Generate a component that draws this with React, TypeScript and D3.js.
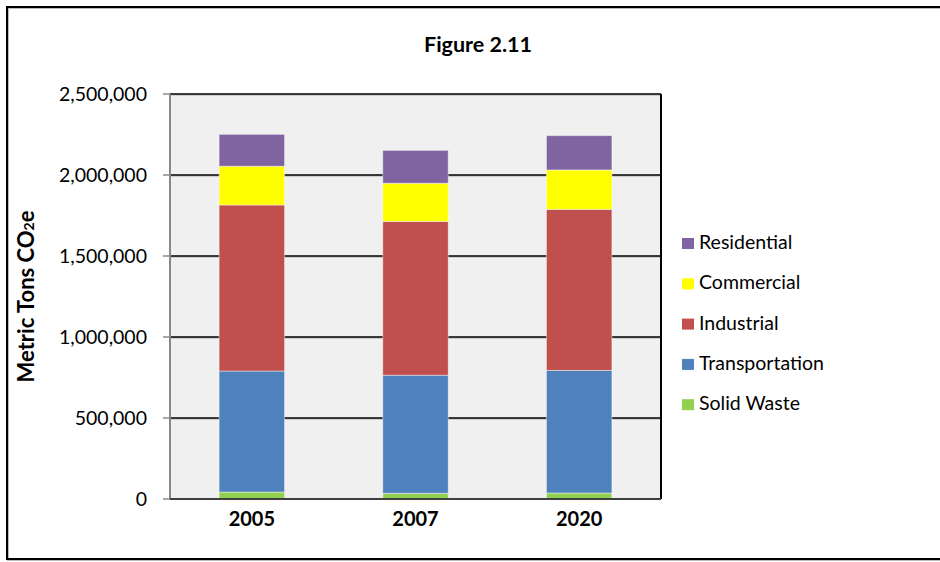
import React from "react";
import * as d3 from "d3";

const years = ["2005", "2007", "2020"];
const solidWaste = [43000, 35000, 37000];
const transportation = [747000, 729000, 757000];
const industrial = [1025000, 950000, 994000];
const commercial = [239000, 235000, 243000];
const residential = [197000, 203000, 212000];
const yTicks = [0, 500000, 1000000, 1500000, 2000000, 2500000];

const seriesNames = ["Solid Waste", "Transportation", "Industrial", "Commercial", "Residential"];
const seriesColors = ["#92D050", "#4F81BD", "#C0504D", "#FFFF00", "#8064A2"];
const seriesValues = [solidWaste, transportation, industrial, commercial, residential];

const W = 940;
const H = 562;
const plot = { left: 170, right: 661, top: 94, bottom: 499 };
const FONT = "Lato, 'Open Sans', sans-serif";

export default function App() {
  const rows = years.map((y, i) => {
    const r: any = { year: y };
    seriesNames.forEach((s, k) => (r[s] = seriesValues[k][i]));
    return r;
  });
  const stacked = d3.stack<any>().keys(seriesNames)(rows);
  const x = d3.scaleBand().domain(years).range([plot.left, plot.right]).paddingInner(0.6).paddingOuter(0.3);
  const y = d3.scaleLinear().domain([0, 2500000]).range([plot.bottom, plot.top]);
  const fmt = d3.format(",");
  const legendOrder = [...seriesNames].reverse();

  return (
    <svg width={W} height={H} style={{ position: "absolute", left: 0, top: 0, background: "#fff" }}>
      {/* outer border */}
      <rect x={8} y={8} width={W} height={H - 10} fill="#fff" stroke="#bbb" strokeWidth={2} />
      <rect x={7} y={7} width={W} height={H - 10} fill="none" stroke="#000" strokeWidth={2} />

      <text x={478} y={52} textAnchor="middle" fontFamily={FONT} fontWeight="bold" fontSize={21.5} fill="#000">
        Figure 2.11
      </text>

      {/* plot area */}
      <rect x={plot.left} y={plot.top} width={plot.right - plot.left} height={plot.bottom - plot.top} fill="#f0f0f0" />

      {/* gridlines */}
      {yTicks.slice(1).map((t) => (
        <g key={t}>
          <line x1={plot.left} x2={plot.right} y1={y(t) + 1} y2={y(t) + 1} stroke="#aaa" strokeWidth={1} />
          <line x1={plot.left} x2={plot.right} y1={y(t)} y2={y(t)} stroke="#000" strokeWidth={1.5} />
        </g>
      ))}
      {/* right border */}
      <line x1={plot.right} x2={plot.right} y1={plot.top} y2={plot.bottom} stroke="#000" strokeWidth={2} />

      {/* bars */}
      {stacked.map((layer, k) =>
        layer.map((d, i) => (
          <rect
            key={seriesNames[k] + i}
            x={x(years[i])}
            y={y(d[1])}
            width={x.bandwidth()}
            height={y(d[0]) - y(d[1])}
            fill={seriesColors[k]}
            stroke="rgba(255,255,255,0.45)"
            strokeWidth={1}
          />
        ))
      )}

      {/* y axis */}
      <line x1={plot.left} x2={plot.left} y1={plot.top} y2={plot.bottom} stroke="#888" strokeWidth={2} />
      {yTicks.map((t) => (
        <g key={"t" + t}>
          <line x1={plot.left - 7} x2={plot.left} y1={y(t)} y2={y(t)} stroke="#888" strokeWidth={1.5} />
          <text x={147} y={y(t) + 7} textAnchor="end" fontFamily={FONT} fontSize={19.5} fill="#000">
            {fmt(t)}
          </text>
        </g>
      ))}
      {/* x axis */}
      <line x1={plot.left} x2={plot.right} y1={plot.bottom} y2={plot.bottom} stroke="#404040" strokeWidth={2} />
      {years.map((yr) => (
        <text key={yr} x={x(yr)! + x.bandwidth() / 2} y={526} textAnchor="middle" fontFamily={FONT} fontWeight="bold" fontSize={20} fill="#000">
          {yr}
        </text>
      ))}

      {/* y title */}
      <text
        transform={`translate(34, ${(plot.top + plot.bottom) / 2}) rotate(-90)`}
        textAnchor="middle"
        fontFamily={FONT}
        fontWeight="bold"
        fontSize={22}
        fill="#000"
      >
        Metric Tons CO<tspan fontSize={14}>2</tspan>e
      </text>

      {/* legend */}
      {legendOrder.map((s, i) => {
        const k = seriesNames.indexOf(s);
        const by = 249 + i * 40.3;
        return (
          <g key={s}>
            <rect x={682} y={by - 11} width={12} height={11} fill={seriesColors[k]} />
            <text x={699} y={by} fontFamily={FONT} fontSize={19.5} fill="#000">
              {s}
            </text>
          </g>
        );
      })}
    </svg>
  );
}
